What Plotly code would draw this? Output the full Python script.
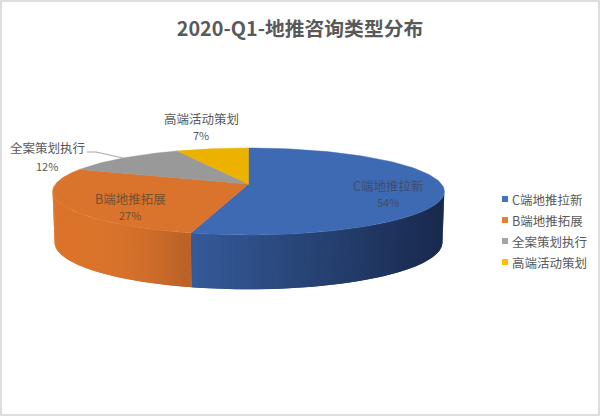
import numpy as np
import plotly.graph_objects as go

# 数据
categories = ['C端地推拉新', 'B端地推拓展', '全案策划执行', '高端活动策划']
values = [54, 27, 12, 7]
title_text = '2020-Q1-地推咨询类型分布'

# 颜色
top_colors = ['#3e6ab3', '#da732c', '#999999', '#edb100']
legend_colors = ['#4472c4', '#ed7d31', '#a5a5a5', '#ffc000']
wall_light = {0: (54, 92, 156), 1: (220, 116, 44)}
wall_dark = {0: (25, 42, 78), 1: (186, 98, 40)}

# 模拟透视饼图的参数(单位是像素)
cx, cy = 248.5, 184
rx, ry = 193, 42.2
persp = 0.172
height = 50
font = 'Noto Sans CJK SC'


def project(theta):
    d = 1 + persp * np.cos(theta)
    return cx + rx * np.sin(theta) / d, cy - ry * np.cos(theta) / d, d


def lerp(c1, c2, t):
    return 'rgb(%d,%d,%d)' % tuple(a + (b - a) * t for a, b in zip(c1, c2))


edges = np.cumsum([0] + values) / sum(values) * 2 * np.pi
silhouette = np.arccos(-persp)

fig = go.Figure()

# 侧面:切成细条做渐变,每条压住下一条一点,避免出现缝
for i, (lo, hi) in enumerate([(silhouette, edges[1]), (edges[1], 2 * np.pi - silhouette)]):
    steps = np.linspace(lo, hi, 61)
    for j in range(60):
        th = np.linspace(steps[j], steps[min(j + 2, 60)], 4)
        x, y, d = project(th)
        drop = height + 25 * (1 - d)
        xb = cx + (x - cx) * 0.99
        yb = y + drop
        if i == 0:
            t = (x[0] - 187) / (444 - 187)
        else:
            # 橙色靠近蓝色才明显变暗
            t = ((x[0] - 53) / (187 - 53)) ** 3
        color = lerp(wall_light[i], wall_dark[i], max(0, min(1, t)))
        fig.add_trace(go.Scatter(
            x=list(x) + list(xb[::-1]), y=list(y) + list(yb[::-1]),
            mode='lines', fill='toself', fillcolor=color,
            line=dict(width=0),
            hoverinfo='skip', showlegend=False))

# 顶面
for i, name in enumerate(categories):
    th = np.linspace(edges[i], edges[i + 1], 120)
    x, y, d = project(th)
    fig.add_trace(go.Scatter(
        x=[cx] + list(x) + [cx], y=[cy] + list(y) + [cy],
        mode='lines', fill='toself', fillcolor=top_colors[i],
        line=dict(color=top_colors[i], width=0.5),
        name=name, hovertemplate='%{fullData.name}<extra></extra>', showlegend=False))

# 图例(原生图例的色块和文字间距太大,这里自己画)
legend_y = [199, 220, 241, 262]
for i, name in enumerate(categories):
    fig.add_trace(go.Scatter(
        x=[505], y=[legend_y[i]], mode='markers', name=name,
        marker=dict(symbol='square', size=6, color=legend_colors[i]),
        hoverinfo='skip', showlegend=False))
    fig.add_annotation(x=509.5, y=legend_y[i], text=name, showarrow=False, xanchor='left',
                       font=dict(family=font, size=12.5, color='#595959'))

# 数据标签
label_pos = [(388, 185, 202), (130, 198, 215), (47, 147, 166), (201, 118, 135)]
label_colors = ['#3f4d6b', '#74502f', '#595959', '#595959']
for i, name in enumerate(categories):
    lx, ly1, ly2 = label_pos[i]
    fig.add_annotation(x=lx, y=ly1, text=name, showarrow=False,
                       font=dict(family=font, size=12.5, color=label_colors[i]))
    fig.add_annotation(x=lx, y=ly2, text='%d%%' % values[i], showarrow=False,
                       font=dict(family=font, size=11, color=label_colors[i]))

# 引导线
fig.add_shape(type='path', path='M 87 152 L 96 152 L 123 158',
              line=dict(color='#a6a6a6', width=1))
# 外框
fig.add_shape(type='rect', xref='paper', yref='paper', x0=0, x1=1, y0=0, y1=1,
              line=dict(color='#dedede', width=4))

fig.update_layout(
    width=600, height=416,
    margin=dict(l=0, r=0, t=0, b=0),
    paper_bgcolor='white', plot_bgcolor='white',
    title=dict(text='<b>' + title_text + '</b>', x=0.5, xanchor='center',
               y=1 - 29 / 416, yanchor='middle',
               font=dict(family=font, size=19.8, color='#595959')),
    xaxis=dict(range=[0, 600], visible=False, fixedrange=True),
    yaxis=dict(range=[416, 0], visible=False, fixedrange=True),
    showlegend=False,
)

# 页面默认有 8px 边距,去掉
fig.write_html('out.html', config={'displayModeBar': False},
               post_script="document.body.style.margin='0';document.body.style.overflow='hidden';")
